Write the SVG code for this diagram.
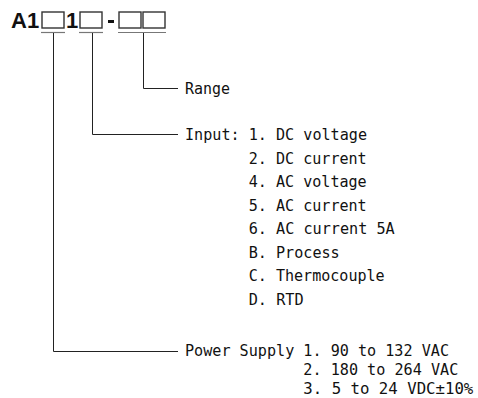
<svg xmlns="http://www.w3.org/2000/svg" width="478" height="398" viewBox="0 0 478 398">
<style>
.hdr{font-family:"Liberation Sans",Arial,sans-serif;font-weight:bold;font-size:22px;fill:#111}
.box{fill:#fff;stroke:#333;stroke-width:1.4}
.ul{stroke:#777;stroke-width:1.2;fill:none}
.con{stroke:#222;stroke-width:1;fill:none}
.t{font-family:"DejaVu Sans Mono",monospace;font-size:16px;fill:#111}
</style>
<rect width="478" height="398" fill="#fff"/>
<g id="code">
<text class="hdr" x="11" y="28">A1</text>
<rect class="box" x="42" y="12" width="22" height="16"/>
<text class="hdr" x="66" y="28">1</text>
<rect class="box" x="80" y="12" width="22" height="16"/>
<rect x="108" y="20" width="6" height="3" fill="#111"/>
<rect class="box" x="119" y="12" width="22" height="16"/>
<rect class="box" x="143" y="12" width="22" height="16"/>
<line class="ul" x1="41" y1="32.5" x2="65" y2="32.5"/>
<line class="ul" x1="79" y1="32.5" x2="103" y2="32.5"/>
<line class="ul" x1="118" y1="32.5" x2="166" y2="32.5"/>
</g>
<g id="connectors">
<polyline class="con" points="143.5,33 143.5,88.5 178,88.5"/>
<polyline class="con" points="92.5,33 92.5,134.5 178,134.5"/>
<polyline class="con" points="53.5,33 53.5,351.5 178,351.5"/>
</g>
<g id="range">
<text class="t" x="185" y="94" textLength="45" lengthAdjust="spacingAndGlyphs">Range</text>
</g>
<g id="input">
<text class="t" x="185" y="140" textLength="182" lengthAdjust="spacingAndGlyphs">Input: 1. DC voltage</text>
<text class="t" x="248.7" y="164" textLength="118" lengthAdjust="spacingAndGlyphs">2. DC current</text>
<text class="t" x="248.7" y="187" textLength="118" lengthAdjust="spacingAndGlyphs">4. AC voltage</text>
<text class="t" x="248.7" y="211" textLength="118" lengthAdjust="spacingAndGlyphs">5. AC current</text>
<text class="t" x="248.7" y="234" textLength="146" lengthAdjust="spacingAndGlyphs">6. AC current 5A</text>
<text class="t" x="248.7" y="258" textLength="91" lengthAdjust="spacingAndGlyphs">B. Process</text>
<text class="t" x="248.7" y="281" textLength="136" lengthAdjust="spacingAndGlyphs">C. Thermocouple</text>
<text class="t" x="248.7" y="305" textLength="55" lengthAdjust="spacingAndGlyphs">D. RTD</text>
</g>
<g id="power">
<text class="t" x="185" y="356" textLength="264" lengthAdjust="spacingAndGlyphs">Power Supply 1. 90 to 132 VAC</text>
<text class="t" x="303.3" y="375" textLength="155" lengthAdjust="spacingAndGlyphs">2. 180 to 264 VAC</text>
<text class="t" x="303.3" y="394" textLength="170" lengthAdjust="spacingAndGlyphs">3. 5 to 24 VDC±10%</text>
</g>
</svg>
